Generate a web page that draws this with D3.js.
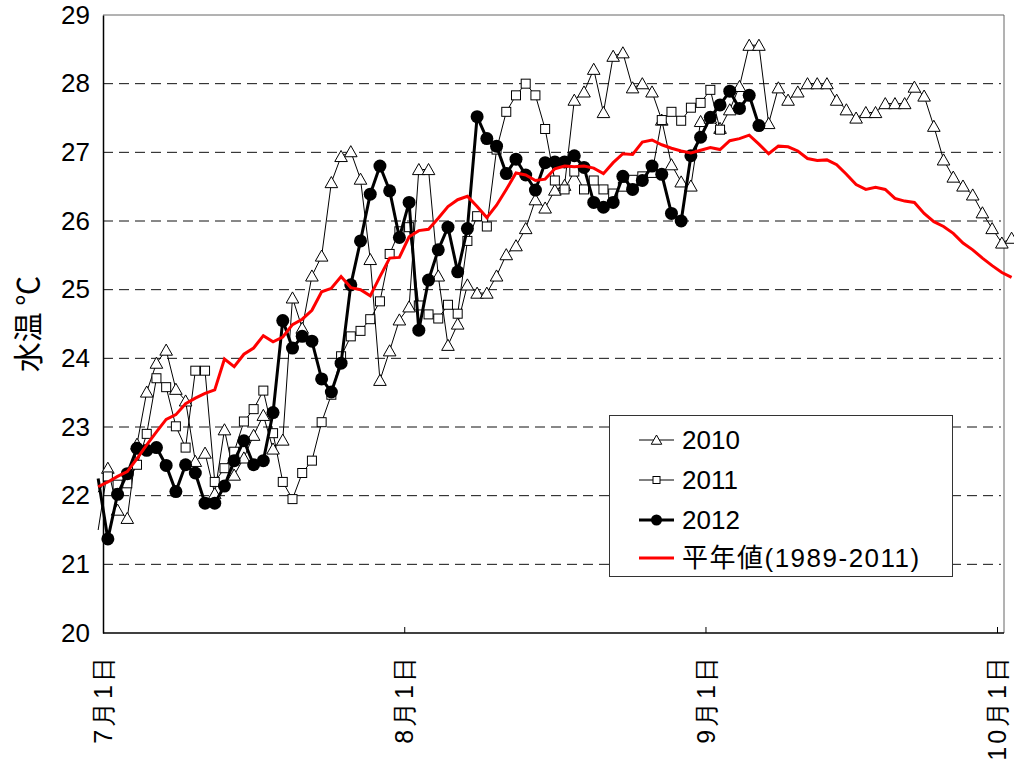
<!DOCTYPE html>
<html>
<head>
<meta charset="utf-8">
<title>水温</title>
<script src="https://d3js.org/d3.v7.min.js"></script>
<style>
  body { margin: 0; background: #fff; }
  svg { font-family: "Liberation Sans", Arial, "Noto Sans CJK JP", sans-serif; }
</style>
</head>
<body>
<div id="chart"></div>
<script>
// first value of every series is 6/30 (day -1), then 7/1, 7/2 ...
const firstDay = -1;

const temp2010 = [21.5, 22.40, 21.79, 21.67, 22.75, 23.51, 23.93, 24.12, 23.55, 23.38,
  22.5, 22.62, 22.03, 22.96, 22.30, 22.55, 22.88, 23.17, 22.68, 22.81,
  24.88, 24.44, 25.20, 25.49, 26.56, 26.94, 27.01, 26.61, 25.44, 23.68,
  24.11, 24.56, 24.75, 26.75, 26.75, 25.20, 24.19, 24.50, 25.07, 24.95,
  24.95, 25.20, 25.51, 25.64, 25.89, 26.31, 26.19, 26.45, 26.52, 27.76,
  27.88, 28.21, 27.58, 28.40, 28.45, 27.94, 28.00, 27.88, 27.47, 26.82,
  26.57, 26.51, 27.45, 27.50, 27.35, 27.62, 27.96, 28.56, 28.56, 27.42,
  27.94, 27.76, 27.88, 28.00, 28.00, 28.00, 27.76, 27.62, 27.50, 27.58,
  27.58, 27.71, 27.71, 27.71, 27.95, 27.82, 27.38, 26.89, 26.64, 26.51,
  26.38, 26.12, 25.89, 25.68, 25.75];

const temp2011 = [22.05, 22.28, 22.16, 22.18, 22.45, 22.90, 23.71, 23.58, 23.01, 22.70,
  23.82, 23.82, 22.20, 22.40, 22.64, 23.08, 23.26, 23.53, 22.91, 22.20,
  21.95, 22.33, 22.51, 23.07, 23.47, 24.03, 24.32, 24.40, 24.57, 24.83,
  25.52, 25.85, 25.91, 24.77, 24.64, 24.58, 24.78, 24.65, 25.71, 26.07,
  25.92, 27.04, 27.59, 27.83, 28.00, 27.83, 27.34, 26.59, 26.46, 26.72,
  26.46, 26.59, 26.46, 26.40, 26.50, 26.60, 26.65, 26.70, 27.47, 27.59,
  27.46, 27.65, 27.72, 27.91, 27.33];

const temp2012 = [22.25, 21.37, 22.02, 22.32, 22.69, 22.66, 22.70, 22.44, 22.06, 22.45,
  22.33, 21.89, 21.89, 22.14, 22.51, 22.80, 22.45, 22.51, 23.21, 24.55,
  24.15, 24.32, 24.25, 23.70, 23.51, 23.93, 25.07, 25.71, 26.39, 26.80,
  26.44, 25.76, 26.27, 24.41, 25.14, 25.58, 25.91, 25.26, 25.89, 27.52,
  27.20, 27.09, 26.69, 26.90, 26.67, 26.45, 26.85, 26.86, 26.86, 26.95,
  26.78, 26.27, 26.20, 26.27, 26.65, 26.46, 26.59, 26.80, 26.68, 26.11,
  26.00, 26.95, 27.22, 27.51, 27.69, 27.89, 27.64, 27.83, 27.39];

const normal = [22.13, 22.20, 22.28, 22.35, 22.54, 22.74, 22.93, 23.11, 23.18, 23.34,
  23.42, 23.49, 23.54, 23.99, 23.88, 24.06, 24.15, 24.33, 24.24, 24.31,
  24.49, 24.57, 24.70, 24.97, 25.02, 25.19, 25.03, 25.00, 24.91, 25.19,
  25.46, 25.47, 25.77, 25.86, 25.88, 26.04, 26.21, 26.31, 26.36, 26.21,
  26.05, 26.23, 26.46, 26.70, 26.67, 26.59, 26.61, 26.76, 26.80, 26.79,
  26.80, 26.77, 26.69, 26.85, 26.98, 26.97, 27.15, 27.18, 27.11, 27.06,
  27.02, 26.99, 27.03, 27.07, 27.04, 27.17, 27.20, 27.25, 27.12, 26.98,
  27.09, 27.08, 27.02, 26.91, 26.88, 26.89, 26.82, 26.68, 26.53, 26.46,
  26.49, 26.46, 26.33, 26.29, 26.27, 26.11, 25.99, 25.92, 25.82, 25.68,
  25.58, 25.46, 25.35, 25.25, 25.18];

const tickDays = [0, 31, 62, 92];
const tickLabels = ["7月1日", "8月1日", "9月1日", "10月1日"];
const yTicks = [20, 21, 22, 23, 24, 25, 26, 27, 28, 29];
const legendNames = ["2010", "2011", "2012", "平年値(1989-2011)"];

const width = 1014, height = 764;
const plotLeft = 103, plotRight = 1004, plotTop = 15, plotBottom = 633;

const svg = d3.select("#chart").append("svg")
  .attr("width", width)
  .attr("height", height);

const x = d3.scaleLinear().domain([0, 92]).range([plotLeft, 997]);
const y = d3.scaleLinear().domain([20, 29]).range([plotBottom, plotTop]);
const px = (i) => x(firstDay + i + 0.5);

// grid
svg.append("g")
  .selectAll("line")
  .data(yTicks.filter(v => v > 20 && v < 29))
  .enter().append("line")
  .attr("x1", plotLeft).attr("x2", 1001)
  .attr("y1", d => y(d)).attr("y2", d => y(d))
  .attr("stroke", "#111")
  .attr("stroke-dasharray", "10,6");

// frame (top / right)
svg.append("path")
  .attr("d", `M${plotLeft},${plotTop}H${plotRight}V${plotBottom}`)
  .attr("fill", "none")
  .attr("stroke", "#666");

// y axis
const yAxis = svg.append("g")
  .attr("transform", `translate(${plotLeft},0)`)
  .call(d3.axisLeft(y).tickValues(yTicks).tickSize(0).tickPadding(13));
yAxis.select(".domain").attr("stroke", "#000").attr("stroke-width", 1.5);
yAxis.selectAll("text").attr("font-size", 26).attr("fill", "#000");

// x axis
const xAxis = svg.append("g")
  .attr("transform", `translate(0,${plotBottom})`)
  .call(d3.axisBottom(x).tickValues(tickDays).tickSize(-6).tickFormat((d, i) => tickLabels[i]));
xAxis.select(".domain").attr("d", `M${plotLeft},0H${plotRight}`).attr("stroke", "#000").attr("stroke-width", 1.5);
xAxis.selectAll("text")
  .attr("font-size", 25)
  .attr("fill", "#000")
  .attr("transform", "rotate(-90)")
  .attr("x", -21)
  .attr("y", 0)
  .attr("dy", "0.35em")
  .attr("letter-spacing", 3)
  .style("text-anchor", "end");

// y title
svg.append("text")
  .attr("transform", "translate(39,324) rotate(-90)")
  .attr("text-anchor", "middle")
  .attr("font-size", 30)
  .style("font-family", "'Noto Sans CJK JP', sans-serif")
  .text("水温 ℃");

const line = d3.line().x((d, i) => px(i)).y(d => y(d));

function triangle(s) {
  return `M0,${-s}L${s * 1.05},${s * 0.85}L${-s * 1.05},${s * 0.85}Z`;
}

// lines
svg.append("path").datum(temp2010).attr("d", line)
  .attr("fill", "none").attr("stroke", "#000").attr("stroke-width", 1);
svg.append("path").datum(temp2011).attr("d", line)
  .attr("fill", "none").attr("stroke", "#000").attr("stroke-width", 1);

// markers (the 6/30 point has no marker)
svg.append("g").selectAll("path")
  .data(temp2010.map((v, i) => [i, v]).slice(1))
  .enter().append("path")
  .attr("transform", d => `translate(${px(d[0])},${y(d[1])})`)
  .attr("d", triangle(6))
  .attr("fill", "#fff").attr("stroke", "#000");

svg.append("g").selectAll("rect")
  .data(temp2011.map((v, i) => [i, v]).slice(1))
  .enter().append("rect")
  .attr("x", d => px(d[0]) - 4.5).attr("y", d => y(d[1]) - 4.5)
  .attr("width", 9).attr("height", 9)
  .attr("fill", "#fff").attr("stroke", "#000");

svg.append("path").datum(temp2012).attr("d", line)
  .attr("fill", "none").attr("stroke", "#000").attr("stroke-width", 3);
svg.append("g").selectAll("circle")
  .data(temp2012.map((v, i) => [i, v]).slice(1))
  .enter().append("circle")
  .attr("cx", d => px(d[0])).attr("cy", d => y(d[1]))
  .attr("r", 6.5)
  .attr("fill", "#000");

svg.append("path").datum(normal).attr("d", line)
  .attr("fill", "none").attr("stroke", "#ff0000").attr("stroke-width", 3);

// legend
const lg = svg.append("g");
lg.append("rect")
  .attr("x", 609.5).attr("y", 415.5)
  .attr("width", 343).attr("height", 161)
  .attr("fill", "#fff").attr("stroke", "#333");

const rowY = [440, 480, 520, 558];
legendNames.forEach((name, i) => {
  const ly = rowY[i];
  lg.append("line")
    .attr("x1", 639).attr("x2", 674).attr("y1", ly).attr("y2", ly)
    .attr("stroke", i === 3 ? "#ff0000" : "#000")
    .attr("stroke-width", i === 2 || i === 3 ? 3 : 1);
  if (i === 0) {
    lg.append("path").attr("transform", `translate(656.5,${ly})`)
      .attr("d", triangle(5)).attr("fill", "#fff").attr("stroke", "#000");
  } else if (i === 1) {
    lg.append("rect").attr("x", 653).attr("y", ly - 3.5).attr("width", 7).attr("height", 7)
      .attr("fill", "#fff").attr("stroke", "#000");
  } else if (i === 2) {
    lg.append("circle").attr("cx", 656.5).attr("cy", ly).attr("r", 5.5).attr("fill", "#000");
  }
  lg.append("text")
    .attr("x", 682).attr("y", ly).attr("dy", "0.36em")
    .attr("font-size", 26)
    .attr("letter-spacing", i === 3 ? 1.5 : 0)
    .text(name);
});
</script>
</body>
</html>
